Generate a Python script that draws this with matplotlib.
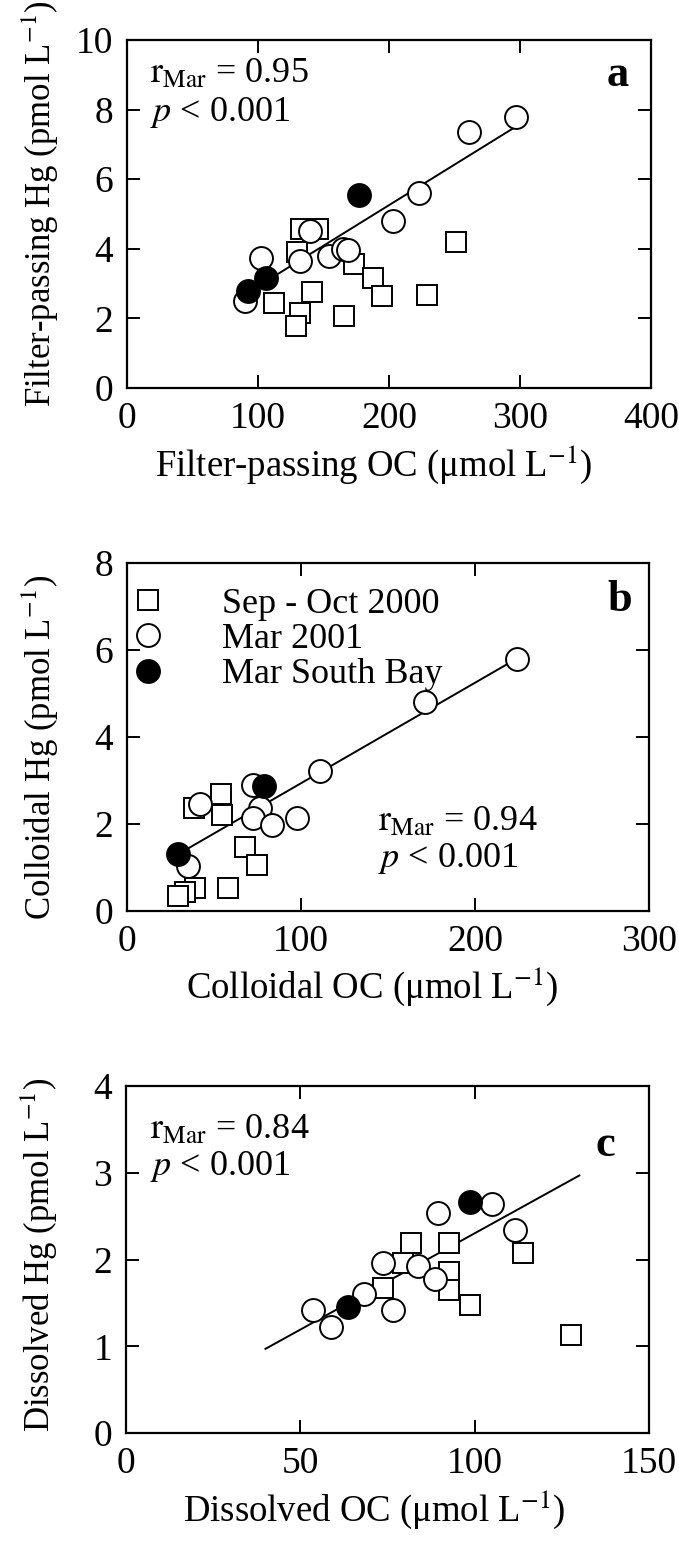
import numpy as np
import matplotlib
matplotlib.use("Agg")
import matplotlib.pyplot as plt

plt.rcParams['font.family'] = ['Liberation Serif', 'DejaVu Serif']
plt.rcParams['mathtext.fontset'] = 'stix'

# ---------------- data ----------------
# Panel a: filter-passing
a_sep_x = [133, 146, 130, 173, 188, 195, 141, 112, 132, 129, 166, 229, 251]
a_sep_y = [4.57, 4.57, 3.91, 3.55, 3.16, 2.64, 2.75, 2.44, 2.16, 1.79, 2.08, 2.67, 4.19]
a_mar_x = [90, 102, 132, 140, 154, 165, 169, 203, 223, 261, 297]
a_mar_y = [2.49, 3.74, 3.64, 4.51, 3.79, 3.98, 3.96, 4.81, 5.59, 7.35, 7.79]
a_sb_x = [92, 106, 177]
a_sb_y = [2.80, 3.16, 5.56]
a_fit = (3.25, 0.0233, 114)   # y at x0, slope, x0
a_fit_range = [90, 297]

# Panel b: colloidal
b_sep_x = [38.5, 53.8, 54.4, 67.8, 74.5, 39, 33.3, 29.5, 58.2]
b_sep_y = [2.36, 2.68, 2.20, 1.48, 1.06, 0.54, 0.44, 0.34, 0.54]
b_mar_x = [42, 72.6, 76.4, 72.6, 83.3, 97.5, 35.3, 111, 171, 224]
b_mar_y = [2.46, 2.90, 2.36, 2.13, 1.98, 2.13, 1.03, 3.22, 4.80, 5.80]
b_sb_x = [29.1, 78.7]
b_sb_y = [1.31, 2.87]
b_fit = (1.32, 0.0231, 30)
b_fit_range = [30, 224]

# Panel c: dissolved
c_sep_x = [73.8, 79.5, 81.7, 92.7, 92.7, 92.7, 98.7, 113.8, 127.6]
c_sep_y = [1.67, 1.96, 2.19, 2.19, 1.86, 1.65, 1.47, 2.07, 1.13]
c_mar_x = [53.6, 58.8, 68.3, 73.8, 76.6, 83.8, 88.6, 89.6, 104.9, 111.7]
c_mar_y = [1.42, 1.22, 1.60, 1.96, 1.42, 1.92, 1.78, 2.54, 2.64, 2.34]
c_sb_x = [63.7, 98.7]
c_sb_y = [1.45, 2.66]
c_fit = (0.97, 0.0222, 40)
c_fit_range = [40, 130]

legend_labels = ["Sep - Oct 2000", "Mar 2001", "Mar South Bay"]

# ---------------- figure ----------------
W, H = 679, 1555
fig = plt.figure(figsize=(W / 100, H / 100), dpi=100)

def px_axes(l, t, r, b):
    return fig.add_axes([l / W, 1 - b / H, (r - l) / W, (b - t) / H])

FS_TICK = 27
FS_LAB = 26.5
FS_YLAB = 25
FS_TXT = 26
MS_C = 16.5
MS_S = 14
MEW = 1.4

def style(ax, xlim, ylim, xticks, yticks):
    ax.set_xlim(*xlim)
    ax.set_ylim(*ylim)
    ax.set_xticks(xticks)
    ax.set_yticks(yticks)
    ax.tick_params(direction='in', length=9.5, width=1.4, top=True, right=True,
                   labelsize=FS_TICK)
    ax.tick_params(axis='x', pad=10)
    ax.tick_params(axis='y', pad=10)
    for s in ax.spines.values():
        s.set_linewidth(1.6)

def draw(ax, sx, sy, mx, my, fx, fy, fit, frange):
    xx = np.array(frange, dtype=float)
    y0, sl, x0 = fit
    ax.plot(xx, y0 + sl * (xx - x0), color='black', lw=1.4, zorder=1)
    h1, = ax.plot(sx, sy, ls='none', marker='s', ms=MS_S, mfc='white', mec='black', mew=MEW, zorder=2)
    h2, = ax.plot(mx, my, ls='none', marker='o', ms=MS_C, mfc='white', mec='black', mew=MEW, zorder=3)
    h3, = ax.plot(fx, fy, ls='none', marker='o', ms=MS_C, mfc='black', mec='black', mew=MEW, zorder=4)
    return h1, h2, h3

# Panel a
axa = px_axes(127, 40, 651, 388)
style(axa, (0, 400), (0, 10), [0, 100, 200, 300, 400], [0, 2, 4, 6, 8, 10])
draw(axa, a_sep_x, a_sep_y, a_mar_x, a_mar_y, a_sb_x, a_sb_y, a_fit, a_fit_range)
axa.text(0.044, 0.90, r"$\mathrm{r_{Mar}}$ = 0.95", transform=axa.transAxes, fontsize=FS_TXT, va='center', ha='left')
axa.text(0.044, 0.793, r"$p$ < 0.001", transform=axa.transAxes, fontsize=FS_TXT, va='center', ha='left')
axa.text(0.937, 0.90, "a", transform=axa.transAxes, fontsize=32, fontweight='bold', va='center', ha='center')
axa.text(0.47, -0.221, r"Filter-passing OC (μmol L$^{-1}$)", transform=axa.transAxes, fontsize=FS_LAB, ha='center', va='center')
axa.text(-0.166, 0.53, r"Filter-passing Hg (pmol L$^{-1}$)", transform=axa.transAxes, fontsize=FS_YLAB, ha='center', va='center', rotation=90)

# Panel b
axb = px_axes(127, 563, 649, 911)
style(axb, (0, 300), (0, 8), [0, 100, 200, 300], [0, 2, 4, 6, 8])
hs = draw(axb, b_sep_x, b_sep_y, b_mar_x, b_mar_y, b_sb_x, b_sb_y, b_fit, b_fit_range)
axb.legend(hs, legend_labels, loc='upper left', bbox_to_anchor=(-0.05, 1.003), frameon=False,
           fontsize=FS_TXT, handlelength=1.2, handletextpad=1.45, labelspacing=0.06, borderaxespad=0.3)
axb.text(0.481, 0.256, r"$\mathrm{r_{Mar}}$ = 0.94", transform=axb.transAxes, fontsize=FS_TXT, va='center', ha='left')
axb.text(0.481, 0.152, r"$p$ < 0.001", transform=axb.transAxes, fontsize=FS_TXT, va='center', ha='left')
axb.text(0.944, 0.894, "b", transform=axb.transAxes, fontsize=32, fontweight='bold', va='center', ha='center')
axb.text(0.47, -0.218, r"Colloidal OC (μmol L$^{-1}$)", transform=axb.transAxes, fontsize=FS_LAB, ha='center', va='center')
axb.text(-0.166, 0.471, r"Colloidal Hg (pmol L$^{-1}$)", transform=axb.transAxes, fontsize=FS_YLAB, ha='center', va='center', rotation=90)

# Panel c
axc = px_axes(126, 1086, 649, 1433)
style(axc, (0, 150), (0, 4), [0, 50, 100, 150], [0, 1, 2, 3, 4])
draw(axc, c_sep_x, c_sep_y, c_mar_x, c_mar_y, c_sb_x, c_sb_y, c_fit, c_fit_range)
axc.text(0.046, 0.873, r"$\mathrm{r_{Mar}}$ = 0.84", transform=axc.transAxes, fontsize=FS_TXT, va='center', ha='left')
axc.text(0.046, 0.767, r"$p$ < 0.001", transform=axc.transAxes, fontsize=FS_TXT, va='center', ha='left')
axc.text(0.916, 0.83, "c", transform=axc.transAxes, fontsize=32, fontweight='bold', va='center', ha='center')
axc.text(0.475, -0.222, r"Dissolved OC (μmol L$^{-1}$)", transform=axc.transAxes, fontsize=FS_LAB, ha='center', va='center')
axc.text(-0.166, 0.513, r"Dissolved Hg (pmol L$^{-1}$)", transform=axc.transAxes, fontsize=FS_YLAB, ha='center', va='center', rotation=90)

fig.savefig("out.png", dpi=100)
